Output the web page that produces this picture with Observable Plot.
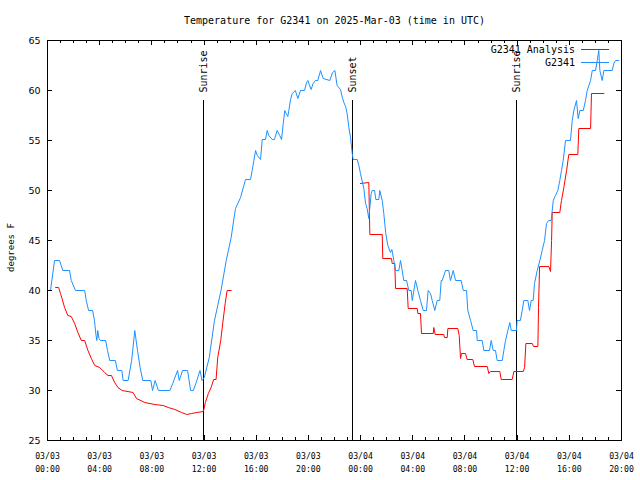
<!DOCTYPE html>
<html>
<head>
<meta charset="utf-8">
<script src="https://cdn.jsdelivr.net/npm/d3@7"></script>
<script src="https://cdn.jsdelivr.net/npm/@observablehq/plot@0.6"></script>
<style>
  html, body { margin: 0; padding: 0; background: white; }
  #chart svg { display: block; }
</style>
</head>
<body>
<div id="chart"></div>
<script>
// Hours since 2025-03-03 00:00 UTC
const blueT = [0.23,0.54,0.92,1.18,1.69,1.82,2.15,2.85,2.97,3.15,3.46,3.6,3.72,3.78,3.85,3.95,4.05,4.46,4.6,4.77,5.2,5.36,5.7,5.8,6.18,6.45,6.69,6.9,7.1,7.3,7.92,8.05,8.25,8.5,9.38,9.6,9.97,10.1,10.35,10.74,10.97,11.18,11.45,11.69,11.85,12.02,12.4,12.8,13.3,13.7,14.08,14.28,14.41,14.8,15.05,15.18,15.56,15.69,15.82,15.95,16.08,16.33,16.46,16.71,16.84,16.97,17.22,17.4,17.6,17.8,17.94,18.07,18.19,18.3,18.42,18.5,18.63,18.76,19.0,19.19,19.39,19.7,19.86,19.96,20.06,20.21,20.36,20.54,20.72,20.93,21.13,21.64,21.85,22.03,22.2,22.46,22.6,22.72,22.85,22.97,23.1,23.23,23.36,23.43,23.74,23.87,23.99,24.25,24.38,24.5,24.63,24.81,24.89,25.07,25.17,25.4,25.47,25.66,25.78,25.93,26.09,26.29,26.4,26.55,26.68,26.93,27.06,27.19,27.31,27.52,27.7,27.88,27.96,28.21,28.39,28.59,28.8,29.05,29.18,29.36,29.49,29.69,29.87,30.07,30.18,30.26,30.51,30.76,30.89,31.1,31.28,31.71,31.87,32.12,32.22,32.43,32.63,32.89,32.94,33.32,33.45,33.88,34.01,34.17,34.34,34.47,34.86,34.98,35.11,35.29,35.44,35.55,35.95,36.0,36.25,36.39,36.51,36.82,36.95,37.08,37.23,37.33,37.54,37.74,37.92,38.10,38.25,38.41,38.61,38.77,38.94,39.12,39.27,39.40,39.53,39.71,40.09,40.22,40.35,40.55,40.68,40.81,41.07,41.24,41.37,41.63,41.76,42.01,42.14,42.26,42.34,42.52,42.65,43.29,43.41,43.54,43.80];
const blueV = [40,43,43,42,42,41,40,40,39,38,38,37,35.5,35,36,35.2,35,35,34,33,33,32,32,31,31,33,36,34,32.3,31,31,30,31,30,30,30.7,32,31,32,32,30,30,31,32,31,31.3,33.3,37,40,43,45.3,47.1,48.2,49.3,50.5,51.1,51.1,52,53,54,53.5,53.1,55.1,55.1,56,55.5,55.1,55.1,56,55.5,55.1,56.7,58,57.7,57.4,58,59.1,59.7,60,59.2,60,60,60.8,61,60.6,60.1,60.7,61,61,62,61.2,61,61.8,62,60.5,60.1,59.3,58.8,58.4,57.7,56.3,55.3,53.7,53.1,53.1,52.5,51.7,50.2,48.7,48.2,47.2,49.7,50,50,49.1,49.1,50,49,47.7,45.7,44.5,43.8,44.1,43,42,42,43,42,41,41,40,40,39,41,40,39,38,38,40,39.7,39,38,39,39,41,41,42,42,41,42,41,41,40,40,38,37,36,36,35,35,34,34,35,34,34,33,33,34,35,36,36.8,36,36,37,37,38,39,39,38,39,39,40.7,42,43,44,45,46.7,47,47,49,49.5,50,51,52,53,55,55,57,58,59,57.2,58,58,59,60,61,62,62,63,64,62,61,62,62,62.7,63,63];

const redT = [0.62,0.85,1.0,1.31,1.56,1.82,2.08,2.33,2.59,2.85,3.1,3.36,3.62,4.0,4.38,4.64,4.9,5.15,5.4,5.72,6.56,6.82,7.46,8.23,8.87,9.26,9.77,10.28,10.67,11.05,11.44,11.95,12.1,12.33,12.54,12.74,12.92,13.05,13.28,13.44,13.62,13.77,14.08,
  19.0,
  23.99,24.63,24.71,25.66,25.70,26.37,26.42,26.62,26.68,27.57,27.65,28.34,28.39,28.59,28.67,29.57,29.61,29.72,30.38,30.43,30.64,30.69,31.45,31.56,31.66,31.74,32.04,32.17,32.60,32.73,33.71,33.83,33.96,34.67,34.78,35.62,35.75,36.47,36.57,36.67,37.16,37.26,37.59,37.64,37.72,38.43,38.56,38.64,38.69,39.27,39.40,39.58,39.79,39.96,40.65,40.73,41.63,41.70,42.65];
const redV = [40.3,40.3,39.7,38.3,37.5,37.4,36.7,35.8,35,35,34,33.2,32.5,32.3,31.8,31.5,31.5,30.8,30.3,30,29.8,29.2,28.8,28.6,28.5,28.3,28.1,27.8,27.6,27.7,27.8,27.9,28.8,29.7,30.3,31.1,31.1,33.3,35,36.8,38.7,40,40,
  null,
  50.7,50.8,45.6,45.6,43.2,43.2,42.7,42.7,40.2,40.2,38.2,38.2,37.7,37.7,35.7,35.7,36.3,35.6,35.6,35.3,35.3,36.2,36.2,35.5,33.2,33.7,33.7,33.1,33.1,32.4,32.4,31.7,31.9,31.9,31.1,31.1,31.9,31.9,32.3,34.7,34.7,34.4,34.4,38.3,42.4,42.4,41.9,45,47.8,47.8,49,50.3,52,53.6,53.6,56.2,56.2,59.7,59.7];

const eventT = [11.98, 23.40, 35.98];
const eventLabels = ["Sunrise", "Sunset", "Sunrise"];

const xMajorTicks = [0,4,8,12,16,20,24,28,32,36,40,44];
const xTickLabels = ["03/03\n00:00","03/03\n04:00","03/03\n08:00","03/03\n12:00","03/03\n16:00","03/03\n20:00","03/04\n00:00","03/04\n04:00","03/04\n08:00","03/04\n12:00","03/04\n16:00","03/04\n20:00"];
const xMinorTicks = d3.range(0, 45).filter(h => h % 4 !== 0);
const yTicks = [25,30,35,40,45,50,55,60,65];

const seriesNames = ["G2341 Analysis", "G2341"];
const seriesColors = ["#ff0000", "#1e90ff"];
const titleText = "Temperature for G2341 on 2025-Mar-03 (time in UTC)";
const yLabel = "degrees F";

const blue = blueT.map((t, i) => ({t, v: blueV[i]}));
const red = redT.map((t, i) => ({t, v: redV[i]}));
const events = eventT.map((t, i) => ({t, label: eventLabels[i]}));

const W = 640, H = 480, mL = 47, mR = 19, mT = 40, mB = 40;
const plotH = H - mT - mB, plotW = W - mL - mR;
const mono = "DejaVu Sans Mono";

function legend(index, scales, values, dims) {
  const g = d3.create("svg:g").attr("font-family", mono).attr("font-size", 10);
  const right = dims.width - dims.marginRight;
  seriesNames.forEach((name, i) => {
    const y = dims.marginTop + 9.5 + i * 13;
    g.append("text").attr("x", right - 46).attr("y", y).attr("dy", "0.35em")
      .attr("text-anchor", "end").attr("fill", "black").text(name);
    g.append("line").attr("x1", right - 40).attr("x2", right - 12)
      .attr("y1", y).attr("y2", y).attr("stroke", seriesColors[i]).attr("stroke-width", 1);
  });
  return g.node();
}

const chart = Plot.plot({
  width: W, height: H,
  marginLeft: mL, marginRight: mR, marginTop: mT, marginBottom: mB,
  style: {fontFamily: mono, fontSize: "10px", background: "white", color: "black"},
  x: {domain: [0, 44], axis: null},
  y: {domain: [25, 65], axis: null},
  marks: [
    Plot.ruleX(events, {x: "t", insetTop: 60, stroke: "black", strokeWidth: 1, shapeRendering: "crispEdges"}),
    Plot.text(events, {x: "t", text: "label", frameAnchor: "top", rotate: -90, textAnchor: "start", lineAnchor: "middle", dy: 52, fontSize: 10, fontFamily: mono, fill: "black"}),
    Plot.line(red, {x: "t", y: "v", stroke: seriesColors[0], strokeWidth: 1}),
    Plot.line(blue, {x: "t", y: "v", stroke: seriesColors[1], strokeWidth: 1}),
    // ticks (inward, mirrored)
    Plot.tickX(xMajorTicks, {x: d => d, insetTop: plotH - 5, stroke: "black", shapeRendering: "crispEdges"}),
    Plot.tickX(xMajorTicks, {x: d => d, insetBottom: plotH - 5, stroke: "black", shapeRendering: "crispEdges"}),
    Plot.tickX(xMinorTicks, {x: d => d, insetTop: plotH - 3, stroke: "black", shapeRendering: "crispEdges"}),
    Plot.tickX(xMinorTicks, {x: d => d, insetBottom: plotH - 3, stroke: "black", shapeRendering: "crispEdges"}),
    Plot.tickY(yTicks, {y: d => d, insetRight: plotW - 5, stroke: "black", shapeRendering: "crispEdges"}),
    Plot.tickY(yTicks, {y: d => d, insetLeft: plotW - 5, stroke: "black", shapeRendering: "crispEdges"}),
    // tick labels
    Plot.text(xMajorTicks, {x: d => d, text: d => xTickLabels[xMajorTicks.indexOf(d)], frameAnchor: "bottom", lineAnchor: "top", dy: 9, fontSize: 8.2, lineHeight: 1.6, fontFamily: mono, fill: "black"}),
    Plot.text(yTicks, {y: d => d, text: d => String(d), frameAnchor: "left", textAnchor: "end", dx: -7, fontSize: 9.5, fontFamily: "DejaVu Sans", fill: "black"}),
    // axis label and title
    Plot.text([yLabel], {text: d => d, frameAnchor: "left", rotate: -90, textAnchor: "middle", lineAnchor: "middle", dx: -36, dy: 7, fontSize: 9, fontFamily: mono, fill: "black"}),
    Plot.text([titleText], {text: d => d, frameAnchor: "top", lineAnchor: "middle", dy: -19.5, fontSize: 10, fontFamily: mono, fill: "black"}),
    legend,
    Plot.frame({stroke: "black", shapeRendering: "crispEdges"})
  ]
});
document.getElementById("chart").appendChild(chart);
</script>
</body>
</html>
